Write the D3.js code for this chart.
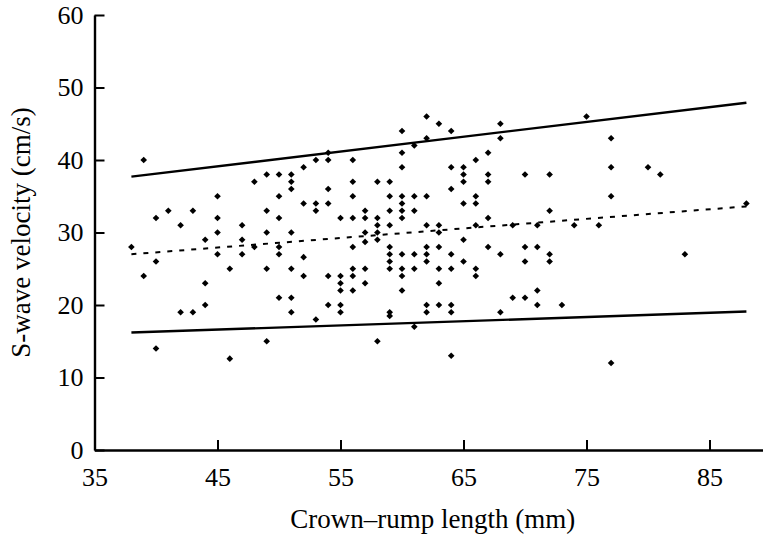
<!DOCTYPE html>
<html>
<head>
<meta charset="utf-8">
<script src="https://cdn.jsdelivr.net/npm/d3@7"></script>
<style>
  body { margin: 0; background: #fff; }
  svg text { font-family: "Liberation Serif", "DejaVu Serif", serif; fill: #000; }
</style>
</head>
<body>
<svg id="chart" width="763" height="538"></svg>
<script>
// 刻度
const xTicks = [35, 45, 55, 65, 75, 85];
const yTicks = [0, 10, 20, 30, 40, 50, 60];

// 散點資料 [CRL (mm), S-wave (cm/s)]
const points = [
  [39, 40], [48, 37], [49, 38], [50, 38], [51, 38], [51, 37], [51, 36], [52, 39], [53, 40],
  [45, 35], [50, 35], [40, 32], [41, 33], [43, 33], [42, 31], [45, 32], [45, 30], [47, 31],
  [47, 29], [44, 29], [49, 33], [50, 32], [49, 30], [51, 30], [52, 34], [53, 34], [53, 33],
  [38, 28], [45, 27], [47, 27], [48, 28], [50, 28], [50, 27], [52, 26.6], [40, 26], [39, 24],
  [46, 25], [49, 25], [51, 25], [52, 24],
  [44, 23], [42, 19], [43, 19], [44, 20], [50, 21], [51, 21], [51, 19], [53, 18], [40, 14],
  [46, 12.6], [49, 15],
  [62, 46], [63, 45], [64, 44], [60, 44], [68, 45], [68, 43], [62, 43], [61, 42], [60, 41],
  [54, 41], [54, 40], [56, 40], [60, 39], [67, 41], [66, 40], [64, 39], [65, 39], [65, 38],
  [65, 37], [67, 38], [67, 37], [70, 38], [56, 37], [58, 37], [59, 37], [54, 36], [64, 36],
  [56, 35], [59, 35], [60, 35], [61, 35], [62, 35], [54, 34], [60, 34], [60, 33], [59, 33],
  [61, 33], [65, 34], [66, 35], [66, 34], [55, 32], [56, 32], [57, 33], [57, 32], [58, 32],
  [58, 31], [58, 30], [58, 29], [57, 30], [57, 28.7], [59, 31], [60, 32], [67, 32], [62, 31],
  [63, 31], [63, 30], [65, 29], [66, 31], [69, 31], [71, 31], [56, 28], [59, 28], [59, 27],
  [59, 26], [59, 25], [60, 27], [61, 27], [62, 28], [62, 27], [62, 26], [63, 28], [64, 27],
  [65, 26], [67, 28], [68, 27], [70, 28], [71, 28], [70, 26], [54, 24], [55, 24], [56, 25],
  [56, 24], [57, 25], [60, 25], [60, 24], [61, 25], [63, 25], [64, 25], [66, 25], [66, 24],
  [55, 23], [55, 22], [56, 22], [57, 23], [60, 22], [63, 23], [54, 20], [55, 20], [55, 19],
  [59, 19], [59, 18.5], [62, 20], [62, 19], [63, 20], [64, 20], [64, 19], [61, 17], [58, 15],
  [64, 13], [68, 19], [69, 21], [70, 21], [71, 22], [71, 20],
  [75, 46], [77, 43], [72, 38], [77, 39], [80, 39], [81, 38], [77, 35], [72, 33], [74, 31],
  [76, 31], [88, 34], [72, 27], [72, 26], [83, 27], [73, 20], [77, 12]
];

// 迴歸線與上下限
const meanLine = [[38, 27.0], [88, 33.6]];
const upperLine = [[38, 37.7], [88, 47.9]];
const lowerLine = [[38, 16.2], [88, 19.1]];

const svg = d3.select("#chart");
const x = d3.scaleLinear().domain([35, 90]).range([94.5, 771]);
const y = d3.scaleLinear().domain([0, 60]).range([450, 15]);

// 座標軸
const xAxis = svg.append("g")
  .attr("transform", `translate(0,${y(0)})`)
  .call(d3.axisBottom(x).tickValues(xTicks).tickSize(-10).tickSizeOuter(0).tickPadding(18));
const yAxis = svg.append("g")
  .attr("transform", `translate(${x(35)},0)`)
  .call(d3.axisLeft(y).tickValues(yTicks).tickSize(-10).tickSizeOuter(0).tickPadding(11));

[xAxis, yAxis].forEach((g) => {
  g.select(".domain").attr("stroke", "#000").attr("stroke-width", 2.4);
  g.selectAll(".tick line").attr("stroke", "#000").attr("stroke-width", 2);
  g.selectAll(".tick text").attr("font-size", 26).attr("font-family", null);
});

// 線
const line = d3.line().x((d) => x(d[0])).y((d) => y(d[1]));
svg.append("path").datum(upperLine).attr("d", line)
  .attr("fill", "none").attr("stroke", "#000").attr("stroke-width", 2.4);
svg.append("path").datum(lowerLine).attr("d", line)
  .attr("fill", "none").attr("stroke", "#000").attr("stroke-width", 2.4);
svg.append("path").datum(meanLine).attr("d", line)
  .attr("fill", "none").attr("stroke", "#000").attr("stroke-width", 2)
  .attr("stroke-dasharray", "5,7");

// 點
const diamond = d3.symbol().type(d3.symbolSquare).size(22);
svg.append("g").selectAll("path")
  .data(points)
  .join("path")
  .attr("d", diamond)
  .attr("transform", (d) => `translate(${x(d[0])},${y(d[1])}) rotate(45)`)
  .attr("fill", "#000");

// 軸標題
svg.append("text")
  .attr("x", (x(35) + x(90)) / 2)
  .attr("y", 528)
  .attr("text-anchor", "middle")
  .attr("font-size", 27)
  .text("Crown–rump length (mm)");

svg.append("text")
  .attr("transform", `translate(30,${(y(0) + y(60)) / 2}) rotate(-90)`)
  .attr("text-anchor", "middle")
  .attr("font-size", 27)
  .text("S-wave velocity (cm/s)");
</script>
</body>
</html>
